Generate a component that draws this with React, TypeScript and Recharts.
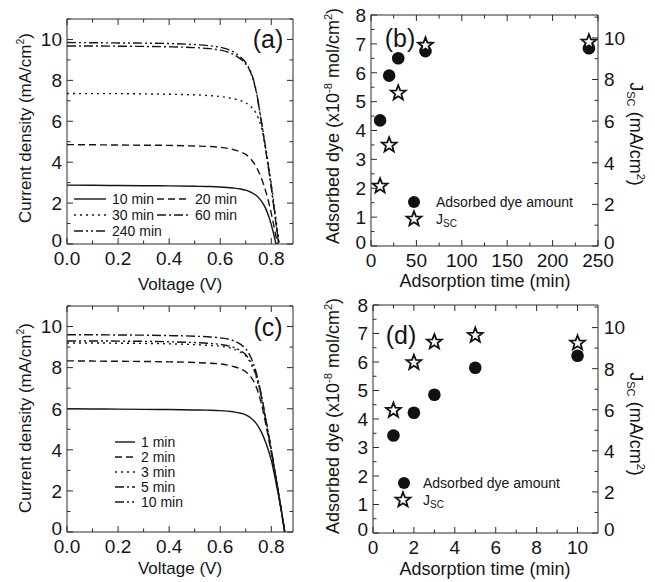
import React from "react";
import { LineChart, Line, ScatterChart, Scatter, XAxis, YAxis, Legend } from "recharts";

const W = 655;
const H = 582;
const FONT = "'Liberation Sans', Arial, Helvetica, sans-serif";
const INK = "#151515";
const AXIS = "#2a2a2a";

// ---------- (a) J-V curves, 10-240 min ----------
const voltsA = [0, 0.1, 0.2, 0.3, 0.4, 0.5, 0.55, 0.6, 0.65, 0.68, 0.7, 0.72, 0.74, 0.76, 0.78, 0.8, 0.81, 0.82, 0.83, 0.84];
const jA10 = [2.88, 2.87, 2.86, 2.85, 2.84, 2.82, 2.81, 2.79, 2.74, 2.69, 2.63, 2.53, 2.38, 2.12, 1.68, 0.95, 0.45, -0.1, null, null];
const jA20 = [4.86, 4.85, 4.84, 4.83, 4.82, 4.79, 4.77, 4.73, 4.62, 4.5, 4.38, 4.15, 3.8, 3.25, 2.5, 1.5, 0.9, 0.25, -0.4, null];
const jA30 = [7.36, 7.35, 7.35, 7.34, 7.32, 7.29, 7.26, 7.21, 7.11, 7.01, 6.9, 6.72, 6.4, 5.75, 4.55, 2.95, 2.0, 1.05, 0.15, -0.7];
const jA60 = [9.68, 9.68, 9.67, 9.66, 9.64, 9.6, 9.56, 9.48, 9.28, 9.04, 8.8, 8.36, 7.5, 6.05, 4.45, 2.75, 1.8, 0.85, -0.1, null];
const jA240 = [9.85, 9.84, 9.83, 9.82, 9.8, 9.75, 9.7, 9.62, 9.4, 9.13, 8.87, 8.4, 7.55, 6.1, 4.5, 2.8, 1.85, 0.9, -0.05, null];

// ---------- (c) J-V curves, 1-10 min ----------
const voltsC = [0, 0.1, 0.2, 0.3, 0.4, 0.5, 0.55, 0.6, 0.65, 0.68, 0.7, 0.72, 0.74, 0.76, 0.78, 0.8, 0.82, 0.84, 0.85, 0.86];
const jC1 = [6.0, 5.99, 5.98, 5.97, 5.96, 5.94, 5.93, 5.91, 5.85, 5.78, 5.7, 5.55, 5.3, 4.9, 4.3, 3.5, 2.3, 1.0, 0.25, -0.5];
const jC2 = [8.33, 8.32, 8.31, 8.3, 8.28, 8.25, 8.22, 8.18, 8.06, 7.94, 7.8, 7.55, 7.1, 6.3, 5.15, 3.85, 2.45, 0.95, 0.15, -0.6];
const jC3 = [9.2, 9.2, 9.19, 9.18, 9.16, 9.12, 9.09, 9.04, 8.92, 8.75, 8.57, 8.2, 7.6, 6.6, 5.3, 3.95, 2.5, 1.0, 0.2, -0.6];
const jC5 = [9.6, 9.6, 9.59, 9.58, 9.56, 9.53, 9.5, 9.45, 9.32, 9.13, 8.92, 8.5, 7.8, 6.75, 5.4, 4.0, 2.55, 1.0, 0.2, -0.6];
const jC10 = [9.3, 9.3, 9.29, 9.28, 9.26, 9.22, 9.19, 9.13, 9.0, 8.82, 8.63, 8.25, 7.65, 6.65, 5.35, 4.0, 2.5, 1.0, 0.2, -0.6];

// ---------- (b) / (d) adsorbed dye and Jsc ----------
const timesB = [10, 20, 30, 60, 240];
const dyeB = [4.35, 5.9, 6.5, 6.75, 6.85];
const jscB = [2.88, 4.85, 7.35, 9.65, 9.8];
const timesD = [1, 2, 3, 5, 10];
const dyeD = [3.42, 4.22, 4.85, 5.8, 6.22];
const jscD = [5.97, 8.3, 9.3, 9.62, 9.25];

// ---------- ticks ----------
const voltTicks = [0, 0.1, 0.2, 0.3, 0.4, 0.5, 0.6, 0.7, 0.8];
const voltLabels = [0, 0.2, 0.4, 0.6, 0.8];
const curTicks = [0, 1, 2, 3, 4, 5, 6, 7, 8, 9, 10, 11];
const curLabels = [0, 2, 4, 6, 8, 10];
const dyeTicks = [0, 0.5, 1, 1.5, 2, 2.5, 3, 3.5, 4, 4.5, 5, 5.5, 6, 6.5, 7, 7.5, 8];
const dyeLabels = [0, 1, 2, 3, 4, 5, 6, 7, 8];
const minTicksB = [0, 25, 50, 75, 100, 125, 150, 175, 200, 225, 250];
const minLabelsB = [0, 50, 100, 150, 200, 250];
const minTicksD = [0, 1, 2, 3, 4, 5, 6, 7, 8, 9, 10];
const minLabelsD = [0, 2, 4, 6, 8, 10];

const DASH: Record<string, string | undefined> = {
  solid: undefined,
  dash: "7 4",
  dot: "2 4",
  dashDot: "9 3 2 3",
  dashDotDot: "9 3 2 3 2 3",
};

const seriesA = [
  { name: "10 min", values: jA10, dash: DASH.solid },
  { name: "20 min", values: jA20, dash: DASH.dash },
  { name: "30 min", values: jA30, dash: DASH.dot },
  { name: "60 min", values: jA60, dash: DASH.dashDot },
  { name: "240 min", values: jA240, dash: DASH.dashDotDot },
];
const seriesC = [
  { name: "1 min", values: jC1, dash: DASH.solid },
  { name: "2 min", values: jC2, dash: DASH.dash },
  { name: "3 min", values: jC3, dash: DASH.dot },
  { name: "5 min", values: jC5, dash: DASH.dashDot },
  { name: "10 min", values: jC10, dash: DASH.dashDotDot },
];

type Plot = { x0: number; x1: number; y0: number; y1: number };
const plotA: Plot = { x0: 67, x1: 293, y0: 19, y1: 244 };
const plotB: Plot = { x0: 371, x1: 598, y0: 15, y1: 246 };
const plotC: Plot = { x0: 67, x1: 293, y0: 306, y1: 532 };
const plotD: Plot = { x0: 373, x1: 598, y0: 305, y1: 533 };

const AXW = 40;
const AXH = 30;
const TOPH = 5;
function margins(p: Plot) {
  return { left: p.x0 - AXW, right: W - p.x1 - AXW, top: p.y0 - TOPH, bottom: H - p.y1 - AXH };
}

const near = (a: number, b: number) => Math.abs(a - b) < 1e-6;

// inward ticks on every side, labels only on majors
function tick(side: string, majors: number[], fmt?: (v: number) => string) {
  return (props: any) => {
    const { x, y, payload } = props;
    const v = Number(payload.value);
    const major = majors.some((m) => near(m, v));
    const len = major ? 6 : 3.5;
    let l = [x, y, x, y - len];
    if (side === "top") l = [x, y, x, y + len];
    if (side === "left") l = [x, y, x + len, y];
    if (side === "right") l = [x, y, x - len, y];
    let label = null;
    if (major && fmt) {
      const common = { fill: INK, fontSize: 19, fontFamily: FONT, stroke: "none" };
      // the "0" on the value axes sits a touch above the corner, as in the original
      const lift = v === 0 ? 4 : 0;
      if (side === "bottom")
        label = <text x={x} y={y + 7} dy="0.72em" textAnchor="middle" {...common}>{fmt(v)}</text>;
      if (side === "left")
        label = <text x={x - 5} y={y - lift} dy="0.36em" textAnchor="end" {...common}>{fmt(v)}</text>;
      if (side === "right")
        label = <text x={x + 6} y={y - lift} dy="0.36em" textAnchor="start" {...common}>{fmt(v)}</text>;
    }
    return (
      <g>
        <line x1={l[0]} y1={l[1]} x2={l[2]} y2={l[3]} stroke={AXIS} strokeWidth={1} />
        {label}
      </g>
    );
  };
}

const fmt1 = (v: number) => v.toFixed(1);
const fmt0 = (v: number) => String(Math.round(v));

function starPath(cx: number, cy: number, R: number, r: number) {
  let d = "";
  for (let k = 0; k < 10; k++) {
    const a = -Math.PI / 2 + (k * Math.PI) / 5;
    const rad = k % 2 === 0 ? R : r;
    d += (k ? "L" : "M") + (cx + rad * Math.cos(a)).toFixed(2) + "," + (cy + rad * Math.sin(a)).toFixed(2);
  }
  return d + "Z";
}

const Dot = (p: any) => <circle cx={p.cx} cy={p.cy} r={6.3} fill="#111" />;
const Star = (p: any) => (
  <path d={starPath(p.cx, p.cy, 7.8, 3.3)} fill="#fff" stroke="#111" strokeWidth={1.8} strokeLinejoin="miter" />
);

type LegendPos = { x: number; y: number; len: number };

function curveLegend(series: { name: string; dash?: string }[], pos: LegendPos[]) {
  return () => (
    <svg width={W} height={H} style={{ position: "absolute", left: 0, top: 0 }}>
      {series.map((s, i) => (
        <g key={s.name}>
          <line x1={pos[i].x} x2={pos[i].x + pos[i].len} y1={pos[i].y} y2={pos[i].y} stroke={INK} strokeWidth={1.4} strokeDasharray={s.dash} />
          <text x={pos[i].x + pos[i].len + 6} y={pos[i].y} dy="0.36em" fontSize={14} fontFamily={FONT} fill={INK}>
            {s.name}
          </text>
        </g>
      ))}
    </svg>
  );
}

function markerLegend(dot: { x: number; y: number }, star: { x: number; y: number }, textX: number) {
  return () => (
    <svg width={W} height={H} style={{ position: "absolute", left: 0, top: 0 }}>
      <circle cx={dot.x} cy={dot.y} r={6} fill="#111" />
      <text x={textX} y={dot.y} dy="0.36em" fontSize={14} fontFamily={FONT} fill={INK}>Adsorbed dye amount</text>
      <path d={starPath(star.x, star.y, 7.8, 3.3)} fill="#fff" stroke="#111" strokeWidth={1.8} />
      <text x={textX} y={star.y} dy="0.36em" fontSize={14} fontFamily={FONT} fill={INK}>
        J<tspan fontSize={10} dy="0.3em">SC</tspan>
      </text>
    </svg>
  );
}

const legendWrap = { left: 0, top: 0, width: W, height: H, pointerEvents: "none" as const };

function JVPanel({ plot, volts, series, xMax, legend }: any) {
  const rows = volts.map((v: number, i: number) => {
    const r: any = { v };
    series.forEach((s: any, k: number) => {
      r["s" + k] = s.values[i];
    });
    return r;
  });
  return (
    <div style={{ position: "absolute", left: 0, top: 0 }}>
      <LineChart width={W} height={H} data={rows} margin={margins(plot)}>
        <XAxis xAxisId="b" type="number" dataKey="v" domain={[0, xMax]} allowDataOverflow ticks={voltTicks} interval={0}
          tickSize={0} tickMargin={0} tickLine={false} height={AXH} stroke={AXIS} tick={tick("bottom", voltLabels, fmt1)} />
        <XAxis xAxisId="t" orientation="top" type="number" dataKey="v" domain={[0, xMax]} allowDataOverflow ticks={voltTicks} interval={0}
          tickSize={0} tickMargin={0} tickLine={false} height={TOPH} stroke={AXIS} tick={tick("top", voltLabels)} />
        <YAxis yAxisId="l" type="number" domain={[0, 11]} allowDataOverflow ticks={curTicks} interval={0}
          tickSize={0} tickMargin={0} tickLine={false} width={AXW} stroke={AXIS} tick={tick("left", curLabels, fmt0)} />
        <YAxis yAxisId="r" orientation="right" type="number" domain={[0, 11]} allowDataOverflow ticks={curTicks} interval={0}
          tickSize={0} tickMargin={0} tickLine={false} width={AXW} stroke={AXIS} tick={tick("right", curLabels)} />
        {series.map((s: any, k: number) => (
          <Line key={s.name} xAxisId="b" yAxisId="l" dataKey={"s" + k} name={s.name} type="monotone" stroke={INK}
            strokeWidth={1.4} strokeDasharray={s.dash} dot={false} activeDot={false} isAnimationActive={false} />
        ))}
        <Legend layout="horizontal" verticalAlign="middle" align="center" wrapperStyle={legendWrap} content={legend} />
      </LineChart>
    </div>
  );
}

function DyePanel({ plot, times, dye, jsc, xMax, xTicks, xLabels, legend }: any) {
  const dyePts = times.map((t: number, i: number) => ({ x: t, y: dye[i] }));
  const jscPts = times.map((t: number, i: number) => ({ x: t, y: jsc[i] }));
  return (
    <div style={{ position: "absolute", left: 0, top: 0 }}>
      <ScatterChart width={W} height={H} margin={margins(plot)}>
        <XAxis xAxisId="b" type="number" dataKey="x" domain={[0, xMax]} allowDataOverflow ticks={xTicks} interval={0}
          tickSize={0} tickMargin={0} tickLine={false} height={AXH} stroke={AXIS} tick={tick("bottom", xLabels, fmt0)} />
        <XAxis xAxisId="t" orientation="top" type="number" dataKey="x" domain={[0, xMax]} allowDataOverflow ticks={xTicks} interval={0}
          tickSize={0} tickMargin={0} tickLine={false} height={TOPH} stroke={AXIS} tick={tick("top", xLabels)} />
        <YAxis yAxisId="l" type="number" dataKey="y" domain={[0, 8]} allowDataOverflow ticks={dyeTicks} interval={0}
          tickSize={0} tickMargin={0} tickLine={false} width={AXW} stroke={AXIS} tick={tick("left", dyeLabels, fmt0)} />
        <YAxis yAxisId="r" orientation="right" type="number" dataKey="y" domain={[0, 11.1]} allowDataOverflow ticks={curTicks} interval={0}
          tickSize={0} tickMargin={0} tickLine={false} width={AXW} stroke={AXIS} tick={tick("right", curLabels, fmt0)} />
        <Scatter name="Adsorbed dye amount" xAxisId="b" yAxisId="l" data={dyePts} shape={Dot} isAnimationActive={false} />
        <Scatter name="Jsc" xAxisId="b" yAxisId="r" data={jscPts} shape={Star} isAnimationActive={false} />
        <Legend layout="horizontal" verticalAlign="middle" align="center" wrapperStyle={legendWrap} content={legend} />
      </ScatterChart>
    </div>
  );
}

const txt = { position: "absolute" as const, fontFamily: FONT, color: INK, whiteSpace: "nowrap" as const, lineHeight: 1 };
const sup = { fontSize: "0.62em", verticalAlign: "0.6em", lineHeight: 0 };
const sub = { fontSize: "0.62em", verticalAlign: "-0.25em", lineHeight: 0 };

function Rot({ x, y, deg, size, children }: any) {
  return (
    <div style={{ ...txt, left: x, top: y, fontSize: size, transform: `translate(-50%, -50%) rotate(${deg}deg)` }}>
      {children}
    </div>
  );
}
function Center({ x, y, size, children }: any) {
  return (
    <div style={{ ...txt, left: x, top: y, fontSize: size, transform: "translate(-50%, -50%)" }}>{children}</div>
  );
}

export default function App() {
  return (
    <div style={{ position: "absolute", left: 0, top: 0, width: W, height: H, background: "#fff", overflow: "hidden" }}>
      <JVPanel plot={plotA} volts={voltsA} series={seriesA} xMax={0.885}
        legend={curveLegend(seriesA, [
          { x: 74, y: 199, len: 32 }, { x: 157, y: 199, len: 32 },
          { x: 74, y: 215, len: 32 }, { x: 157, y: 215, len: 32 },
          { x: 74, y: 231, len: 32 },
        ])} />
      <JVPanel plot={plotC} volts={voltsC} series={seriesC} xMax={0.885}
        legend={curveLegend(seriesC, [
          { x: 115, y: 442, len: 20 }, { x: 115, y: 457, len: 20 }, { x: 115, y: 472, len: 20 },
          { x: 115, y: 487, len: 20 }, { x: 115, y: 502, len: 20 },
        ])} />
      <DyePanel plot={plotB} times={timesB} dye={dyeB} jsc={jscB} xMax={250} xTicks={minTicksB} xLabels={minLabelsB}
        legend={markerLegend({ x: 414, y: 202 }, { x: 414, y: 219 }, 436)} />
      <DyePanel plot={plotD} times={timesD} dye={dyeD} jsc={jscD} xMax={11} xTicks={minTicksD} xLabels={minLabelsD}
        legend={markerLegend({ x: 404, y: 483 }, { x: 403, y: 500 }, 423)} />

      <Center x={268} y={39} size={25}>(a)</Center>
      <Center x={400} y={38} size={25}>(b)</Center>
      <Center x={268} y={327} size={25}>(c)</Center>
      <Center x={401} y={335} size={25}>(d)</Center>

      <Rot x={25} y={128} deg={-90} size={17}>Current density (mA/cm<span style={sup}>2</span>)</Rot>
      <Rot x={25} y={418} deg={-90} size={17}>Current density (mA/cm<span style={sup}>2</span>)</Rot>
      <Center x={180} y={284} size={17}>Voltage (V)</Center>
      <Center x={180} y={568} size={17}>Voltage (V)</Center>

      <Rot x={333} y={126} deg={-90} size={18}>Adsorbed dye (x10<span style={sup}>-8</span> mol/cm<span style={sup}>2</span>)</Rot>
      <Rot x={333} y={416} deg={-90} size={18}>Adsorbed dye (x10<span style={sup}>-8</span> mol/cm<span style={sup}>2</span>)</Rot>
      <Rot x={636} y={134} deg={90} size={18}>J<span style={sub}>SC</span> (mA/cm<span style={sup}>2</span>)</Rot>
      <Rot x={636} y={424} deg={90} size={18}>J<span style={sub}>SC</span> (mA/cm<span style={sup}>2</span>)</Rot>
      <Center x={485} y={281} size={18}>Adsorption time (min)</Center>
      <Center x={485} y={569} size={18}>Adsorption time (min)</Center>
    </div>
  );
}
